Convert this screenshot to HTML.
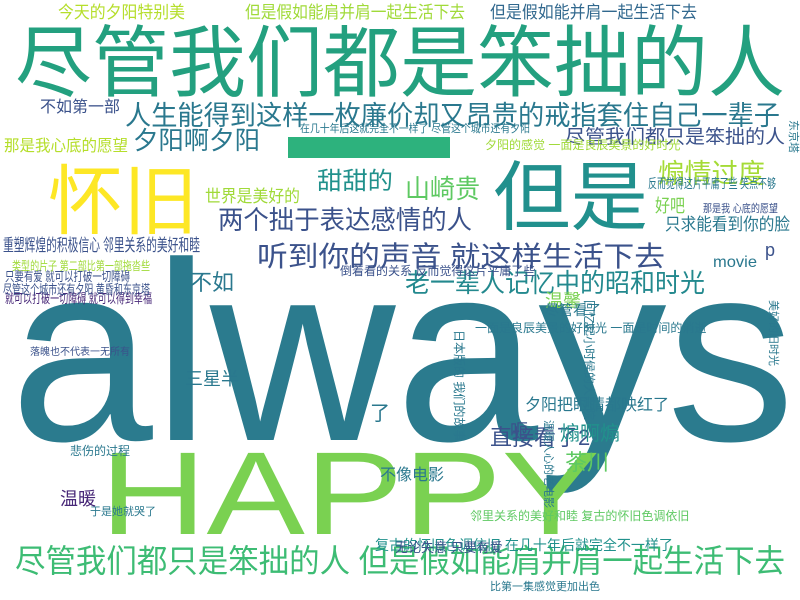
<!DOCTYPE html>
<html><head><meta charset="utf-8"><style>
html,body{margin:0;padding:0;background:#fff;}
svg{display:block;}
text{font-family:"Liberation Sans","Noto Sans CJK SC",sans-serif;}
</style></head><body>
<svg width="800" height="600" viewBox="0 0 800 600">
<rect width="800" height="600" fill="#fff"/>
<g id="words"></g>
</svg>
<script>
const words = ["always","HAPPY","尽管我们都是笨拙的人","尽管我们都只是笨拙的人 但是假如能肩并肩一起生活下去","人生能得到这样一枚廉价却又昂贵的戒指套住自己一辈子","怀旧","但是","听到你的声音 就这样生活下去","老一辈人记忆中的昭和时光","两个拙于表达感情的人","夕阳啊夕阳","煽情过度","甜甜的","山崎贵","世界是美好的","不如","今天的夕阳特别美","但是假如能肩并肩一起生活下去","但是假如能并肩一起生活下去","不如第一部","尽管我们都只是笨拙的人","那是我心底的愿望","只求能看到你的脸","好吧","重塑辉煌的积极信心 邻里关系的美好和睦","movie","温馨","三星半","直接看了2","夕阳把眼睛都映红了","茶川","煽啊煽","温暖","不像电影","呃","尽管看了","反而觉得这片平庸了些 笑点不够","在几十年后这就完全不一样了 尽管这个城市还有夕阳","倒着看的关系 反而觉得这片平庸了些","一面是良辰美景的好时光 一面是时间的消逝","复古的怀旧色调依旧 在几十年后就完全不一样了","无论失意 只要有爱","就可以打破一切障碍 就可以得到幸福","只要有爱 就可以打破一切障碍","邻里关系的美好和睦 复古的怀旧色调依旧","那是我 心底的愿望","落魄也不代表一无所有","悲伤的过程","于是她就哭了","尽管这个城市还有夕阳 黄昏和东京塔","比第一集感觉更加出色","类型的片子 第二部比第一部拖沓些","p","了","夕阳的感觉 一面是良辰美景的好时光"];
const xs = [10,100,15,15,125,48,493,257,405,218,133,658,317,405,205,190,58,245,490,40,565,4,665,655,3,713,545,185,490,525,565,560,60,380,510,545,648,300,340,475,375,395,5,5,470,703,30,70,90,3,490,12,765,370,485];
const ys = [440,534,90,572,125,228,224,266,292,229,149,183,189,198,202,290,18,18,18,112,143,151,230,212,251,267,307,385,445,410,470,440,505,480,437,315,188,132,275,332,550,552,303,281,520,212,355,455,515,294,590,270,256,420,149];
const sizes = [255,118,78,32,27,76,76,28,26,26,25,27,24,26,17,22,17,17,17,16,19,16,17,18,17,16,18,18,22,16,22,20,18,16,18,14,13,11,12,12,14,13,13,13,12,11,10,12,11,13,11,12,18,20,12];
const lens = [785,500,770,770,655,150,155,408,300,254,127,107,76,75,95,0,127,220,207,80,220,124,125,30,197,44,0,0,0,0,0,0,0,0,0,0,128,230,0,0,0,0,147,125,0,75,0,0,0,147,0,138,0,0,0];
const colors = ["#2b7b8e","#7ad151","#23a07f","#3dbc74","#2a788e","#fde725","#21908d","#3b528b","#23898e","#3b528b","#2a788e","#a5db36","#21918c","#5ec962","#a0da39","#2a788e","#b5de2b","#a0da39","#31688e","#3b528b","#3b528b","#b5de2b","#2a788e","#7ad151","#3b528b","#2a788e","#7ad151","#2a788e","#3b528b","#2a788e","#5ec962","#21918c","#482878","#2a788e","#3b528b","#2a788e","#2a788e","#2a788e","#3b528b","#2a788e","#21918c","#3b528b","#482878","#3b528b","#5ec962","#3b528b","#3b528b","#2a788e","#2a788e","#3b528b","#2a788e","#a0da39","#3b528b","#2a788e","#a0da39"];

const g = document.getElementById('words');
const NS = 'http://www.w3.org/2000/svg';
const bar = document.createElementNS(NS,'rect');
bar.setAttribute('x',288);bar.setAttribute('y',137);bar.setAttribute('width',162);bar.setAttribute('height',21);bar.setAttribute('fill','#2db27d');


g.appendChild(bar);
for (let i=0;i<words.length;i++){
  const t = document.createElementNS(NS,'text');
  t.setAttribute('x', xs[i]);
  t.setAttribute('y', ys[i]);
  t.setAttribute('font-size', sizes[i]);
  t.setAttribute('fill', colors[i]);
  if (lens[i]>0){ t.setAttribute('textLength', lens[i]); t.setAttribute('lengthAdjust','spacingAndGlyphs'); }
  t.textContent = words[i];
  
  
  g.appendChild(t);
}
const vwords = ["回忆起小时候的大杂院","温暖人心的老电影","东京塔","美好的旧时光","日本版的 我们的故事"];
const vx = [585,545,790,770,455];
const vy = [300,420,120,300,330];
const vs = [12,11,11,11,12];
for (let i=0;i<vwords.length;i++){
  const t = document.createElementNS(NS,'text');
  t.setAttribute('font-size', vs[i]);
  t.setAttribute('fill', '#2a788e');
  t.setAttribute('transform','translate('+vx[i]+','+vy[i]+') rotate(90)');
  t.textContent = vwords[i];
  
  
  g.appendChild(t);
}
</script>
</body></html>
